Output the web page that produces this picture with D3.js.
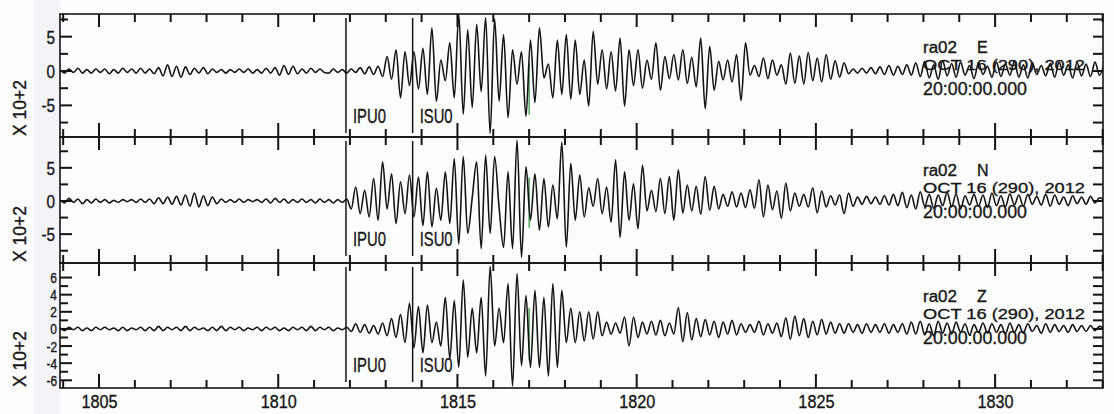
<!DOCTYPE html>
<html><head><meta charset="utf-8">
<script src="https://cdn.jsdelivr.net/npm/d3@7"></script>
<style>
html,body{margin:0;padding:0;background:#fdfdfd;}
svg{display:block;}
.lab{font-family:"Liberation Sans","Arial",sans-serif;fill:#161616;stroke:#161616;stroke-width:0.35px;}
</style></head><body>
<svg id="c" width="1114" height="414"></svg>
<script>
// ---- data ----
const startTime = 1803.912;   // s, first sample (left edge)
const endTime = 1833.01;      // s, right edge of the plot
const sampleStep = 0.125;     // s between successive extrema samples
const xMajorTicks = [1805, 1810, 1815, 1820, 1825, 1830];
const xMinorTicks = [1804,1806,1807,1808,1809,1811,1812,1813,1814,1816,1817,1818,1819,1821,1822,1823,1824,1826,1827,1828,1829,1831,1832,1833];
const channels = ["E", "N", "Z"];
const station = "ra02";
const dateLabel = "OCT 16 (290), 2012";
const timeLabel = "20:00:00.000";
const scaleLabel = "X 10+2";
const pickNames = ["IPU0", "ISU0"];
const pickTimes = [1811.89, 1813.75];
const greenPickTime = 1817.0;
const yRanges = [[-9.6, 8.3], [-9.35, 9.65], [-6.9, 7.7]];
const yMajorTicks = [[-5, 0, 5], [-5, 0, 5], [-6, -4, -2, 0, 2, 4, 6]];
const yMinorTicks = [[-7.5, -2.5, 2.5, 7.5], [-7.5, -2.5, 2.5, 7.5], [-5, -3, -1, 1, 3, 5]];

const traceE = [
 0.2,-0.3,0.3,-0.2,0.4,-0.3,0.2,-0.3,0.3,-0.2,
 0.3,-0.4,0.2,-0.3,0.4,-0.2,0.3,-0.3,0.4,-0.3,
 0.3,-0.4,0.5,-0.7,0.9,-0.8,0.7,-0.9,0.6,-0.5,
 0.4,-0.3,0.5,-0.4,0.3,-0.2,0.2,-0.3,0.2,-0.2,
 0.3,-0.2,0.3,-0.3,0.2,-0.3,0.4,-0.3,0.5,-0.6,
 0.8,-0.5,0.7,-0.4,0.3,-0.3,0.4,-0.2,0.3,-0.2,
 -0.3,0.3,-0.2,0.2,-0.3,0.3,-0.2,0.5,-0.4,0.6,
 -0.5,0.7,-0.8,2.1,-1.2,3.1,-3.9,2.8,-2.1,2.8,
 -2.6,3.3,-3.4,6.3,-4.4,1.6,-1.4,4.1,-3.9,8.3,
 -6.3,6.0,-5.3,6.8,-3.0,7.8,-9.1,7.6,-4.4,5.3,
 -6.8,3.1,-1.9,2.8,-6.6,4.5,-4.6,6.3,-1.0,1.0,
 -3.9,4.5,-3.4,5.3,-4.1,4.5,-3.4,1.6,-5.1,5.8,
 -1.9,3.1,-2.6,2.8,-2.9,4.8,-5.1,3.1,-2.1,3.1,
 -2.5,1.6,-1.2,4.1,-2.8,2.1,-1.1,2.4,-1.3,3.1,
 -1.8,2.0,-2.3,4.8,-5.5,3.6,-2.8,1.4,-1.3,1.6,
 -1.6,2.4,-4.3,4.1,-0.6,0.8,-0.8,1.9,-1.1,1.6,
 -0.6,0.9,-1.9,2.6,-1.8,2.2,-1.9,2.7,-1.4,1.9,
 -1.6,2.4,-1.2,1.5,-0.9,1.2,-0.4,0.3,-0.3,0.4,
 -0.3,0.5,-0.4,0.6,-0.5,0.8,-0.6,0.7,-0.5,0.9,
 -0.6,1.2,-0.8,1.4,-1.0,0.9,-1.2,1.5,-0.7,1.1,
 -0.9,1.3,-0.6,0.8,-1.1,1.2,-0.5,0.7,-0.9,1.3,
 -0.8,1.0,-0.6,1.4,-0.9,0.9,-1.0,1.2,-0.5,0.8,
 -0.7,1.1,-0.9,1.3,-0.6,0.9,-1.0,1.2,-0.7,1.0,
 -0.8,1.3,-0.6,1.0
];
const traceN = [
 0.2,-0.3,0.4,-0.2,0.3,-0.4,0.2,-0.3,0.3,-0.2,
 0.2,-0.3,0.1,-0.2,0.2,-0.1,0.2,-0.2,0.3,-0.2,
 0.3,-0.4,0.5,-0.4,0.6,-0.5,0.7,-0.6,0.9,-0.8,
 1.2,-0.9,0.8,-0.7,0.6,-0.4,0.3,-0.2,0.2,-0.2,
 0.3,-0.2,0.2,-0.1,0.2,-0.2,0.3,-0.3,0.4,-0.2,
 0.3,-0.3,0.2,-0.2,0.3,-0.2,0.2,-0.3,0.3,-0.2,
 0.2,-0.3,0.2,-0.2,0.3,-1.2,2.1,-1.9,1.6,-2.4,
 3.4,-2.9,5.9,-1.2,4.1,-3.4,2.9,-1.9,3.9,-2.4,
 3.6,-3.7,4.4,-3.9,1.9,-2.9,4.4,-3.4,6.4,-6.5,
 6.7,-4.9,0.5,5.9,-7.2,6.9,-4.9,6.7,-1.0,-7.0,
 4.4,-7.2,9.2,-8.5,5.2,-2.9,4.1,-4.4,3.4,-3.9,
 2.4,-2.7,8.9,-7.0,5.7,-2.9,3.9,-2.4,2.0,-0.8,
 3.4,-1.9,2.1,-3.2,6.2,-5.5,4.4,-2.9,2.6,-4.2,
 5.4,-1.5,1.6,-1.6,3.4,-1.9,3.7,-2.9,4.7,-1.8,
 2.4,-1.5,2.2,-2.0,3.7,-1.4,2.2,-1.2,1.0,-0.8,
 1.4,-0.9,1.2,-1.0,1.7,-1.1,3.2,-2.4,2.4,-1.3,
 1.5,-2.6,2.7,-1.5,1.2,-0.8,1.0,-0.9,2.0,-1.8,
 1.5,-0.9,0.8,-0.6,0.9,-1.9,1.2,-0.8,0.6,-0.5,
 0.7,-0.4,0.6,-0.5,0.8,-0.6,1.0,-0.7,1.3,-1.0,
 0.9,-1.2,1.4,-0.8,1.0,-1.1,0.9,-0.7,1.3,-0.9,
 1.1,-1.2,0.8,-0.6,1.0,-0.8,0.9,-1.0,1.2,-0.7,
 0.8,-0.9,1.1,-0.6,0.9,-0.8,1.0,-0.5,0.7,-0.6,
 1.0,-0.8,0.9,-0.5,0.6,-0.7,0.8,-0.4,0.6,-0.5,
 0.7,-0.3,0.5,0.2
];
const traceZ = [
 0.1,-0.2,0.2,-0.1,0.2,-0.2,0.1,-0.2,0.2,-0.1,
 0.2,-0.1,0.1,-0.2,0.2,-0.2,0.1,-0.1,0.2,-0.2,
 0.2,-0.2,0.3,-0.2,0.2,-0.1,0.2,-0.2,0.3,-0.2,
 0.2,-0.1,0.1,-0.2,0.2,-0.2,0.3,-0.2,0.2,-0.1,
 0.2,-0.2,0.1,-0.1,0.2,-0.2,0.2,-0.1,0.2,-0.2,
 0.1,-0.2,0.2,-0.1,0.2,-0.2,0.3,-0.2,0.2,-0.1,
 0.2,-0.2,0.1,-0.1,0.2,-0.3,0.6,-0.4,0.5,-0.5,
 0.4,-0.6,0.7,-0.8,1.2,-1.0,1.7,-1.6,3.0,-2.2,
 2.6,-2.8,2.8,-1.6,0.8,-2.0,3.7,-3.5,3.3,-4.5,
 5.7,-3.3,2.4,-2.8,3.7,-5.5,7.3,-2.0,2.4,-1.6,
 5.3,-6.7,6.5,-4.3,3.9,-4.5,4.5,-4.5,3.7,-5.5,
 5.3,-4.5,4.5,-1.6,2.4,-1.6,2.0,-1.4,2.0,-1.2,
 2.0,-0.8,0.8,-0.6,0.7,-0.5,1.4,-2.0,1.4,-1.0,
 0.8,-0.6,0.9,-0.7,1.0,-0.8,0.7,-0.6,2.5,-1.5,
 1.9,-1.3,1.2,-0.9,1.1,-0.7,0.9,-1.0,0.8,-0.6,
 1.0,-0.7,0.6,-0.4,0.5,-0.4,0.9,-0.7,0.6,-0.5,
 0.7,-0.9,1.3,-1.2,1.5,-0.8,1.2,-1.0,0.9,-0.7,
 1.1,-0.6,0.8,-0.5,0.6,-0.5,0.6,-0.4,0.5,-0.5,
 0.6,-0.4,0.5,-0.4,0.6,-0.5,0.5,-0.4,0.6,-0.6,
 0.8,-0.6,0.9,-0.7,0.6,-0.8,0.9,-0.5,0.7,-0.6,
 0.8,-0.4,0.6,-0.7,0.5,-0.4,0.7,-0.5,0.6,-0.4,
 0.5,-0.6,0.7,-0.4,0.5,-0.5,0.6,-0.3,0.4,-0.5,
 0.6,-0.4,0.5,-0.3,0.4,-0.4,0.5,-0.3,0.4,-0.3,
 0.4,-0.2,0.3,0.1
];
const traces = [traceE, traceN, traceZ];

// ---- layout ----
const svg = d3.select("#c");
const plotLeft = 60, plotRight = 1103;
const panelTops = [14, 137, 263];
const panelBottoms = [137, 263, 388];
const ink = "#141414";

svg.append("rect").attr("x", 34).attr("y", 0).attr("width", 26).attr("height", 414)
  .attr("fill", "#efeff5").attr("opacity", 0.6);

const xs = d3.scaleLinear().domain([startTime, endTime]).range([plotLeft, plotRight]);
const defs = svg.append("defs");
const yScales = panelTops.map((t, p) => d3.scaleLinear().domain(yRanges[p]).range([panelBottoms[p], t]));

function narrow(sel, factor) {
  sel.each(function () {
    const L = this.getComputedTextLength();
    if (L > 0) d3.select(this).attr("textLength", L * factor).attr("lengthAdjust", "spacingAndGlyphs");
  });
}
function fixedWidth(sel, w) {
  return sel.attr("textLength", w).attr("lengthAdjust", "spacingAndGlyphs");
}

const traceLayer = svg.append("g");
const markLayer = svg.append("g");
const textLayer = svg.append("g");
const tickLayer = svg.append("g");
const tickSpecs = [];   // {x, y, w, h} rectangles built from the scales
const TW = 2;           // tick thickness

channels.forEach((ch, p) => {
  const top = panelTops[p], bottom = panelBottoms[p];
  const ys = yScales[p];

  defs.append("clipPath").attr("id", "clip" + p)
    .append("rect").attr("x", plotLeft).attr("y", top).attr("width", plotRight - plotLeft).attr("height", bottom - top);

  const gx = xs(greenPickTime);
  const greenSeg = [[0.40, 0.82], [0.32, 0.72], [0.36, 0.78]][p];
  traceLayer.append("line").attr("x1", gx).attr("x2", gx)
    .attr("y1", top + (bottom - top) * greenSeg[0]).attr("y2", top + (bottom - top) * greenSeg[1])
    .attr("stroke", "#3a9a4a").attr("stroke-width", 1.3);

  const lineGen = d3.line()
    .x((d, i) => xs(startTime + i * sampleStep))
    .y(d => ys(d))
    .curve(d3.curveMonotoneX);
  traceLayer.append("path").datum(traces[p])
    .attr("clip-path", "url(#clip" + p + ")")
    .attr("d", lineGen).attr("fill", "none")
    .attr("stroke", ink).attr("stroke-width", 1.6).attr("stroke-linejoin", "round");

  pickTimes.forEach((t, k) => {
    const px = xs(t);
    markLayer.append("line").attr("x1", px).attr("x2", px).attr("y1", top + 4).attr("y2", top + 119)
      .attr("stroke", ink).attr("stroke-width", 1.5);
    fixedWidth(textLayer.append("text").attr("class", "lab").attr("x", px + 7).attr("y", top + 109)
      .attr("font-size", 21).text(pickNames[k]), 33);
  });

  markLayer.append("rect").attr("x", plotLeft).attr("y", top).attr("width", plotRight - plotLeft).attr("height", bottom - top)
    .attr("fill", "none").attr("stroke", ink).attr("stroke-width", 1.6);

  // tick rectangles
  yMajorTicks[p].forEach(v => tickSpecs.push({x: plotLeft, y: ys(v) - TW / 2, w: 12, h: TW}));
  yMinorTicks[p].forEach(v => tickSpecs.push({x: plotLeft, y: ys(v) - TW / 2, w: 8, h: TW}));
  yMajorTicks[p].concat(yMinorTicks[p]).forEach(v => tickSpecs.push({x: plotRight - 10, y: ys(v) - TW / 2, w: 10, h: TW}));
  xMajorTicks.forEach(v => {
    tickSpecs.push({x: xs(v) - TW / 2, y: top, w: TW, h: 13});
    tickSpecs.push({x: xs(v) - TW / 2, y: bottom - 14, w: TW, h: 14});
  });
  xMinorTicks.forEach(v => {
    tickSpecs.push({x: xs(v) - TW / 2, y: top, w: TW, h: 8});
    tickSpecs.push({x: xs(v) - TW / 2, y: bottom - 8, w: TW, h: 8});
  });

  // y labels via d3 axis
  const yl = textLayer.append("g").attr("transform", `translate(${plotLeft},0)`)
    .call(d3.axisLeft(ys).tickValues(yMajorTicks[p]).tickSize(0).tickPadding(p === 2 ? 3 : 5)
      .tickFormat(d => (d < 0 ? "-" : "") + Math.abs(d)));
  yl.select(".domain").remove();
  yl.selectAll(".tick line").remove();
  yl.attr("font-family", null);
  yl.selectAll("text").attr("class", "lab").attr("font-size", p === 2 ? 14 : 18).attr("dy", "0.36em");
  narrow(yl.selectAll("text"), 0.85);

  if (p === 2) {
    const xb = textLayer.append("g").attr("transform", `translate(0,${bottom})`)
      .call(d3.axisBottom(xs).tickValues(xMajorTicks).tickSize(0).tickPadding(7).tickFormat(d3.format("d")));
    xb.select(".domain").remove();
    xb.selectAll(".tick line").remove();
    xb.attr("font-family", null);
    xb.selectAll("text").attr("class", "lab").attr("font-size", 18);
    narrow(xb.selectAll("text"), 0.9);
  }

  fixedWidth(textLayer.append("text").attr("class", "lab").attr("transform", `translate(26,${bottom - 1}) rotate(-90)`)
    .attr("font-size", 18).text(scaleLabel), 56);

  fixedWidth(textLayer.append("text").attr("class", "lab").attr("x", 923).attr("y", top + 39).attr("font-size", 16).text(station), 34);
  textLayer.append("text").attr("class", "lab").attr("x", 977).attr("y", top + 39).attr("font-size", 16).text(ch);
  fixedWidth(textLayer.append("text").attr("class", "lab").attr("x", 923).attr("y", top + 56).attr("font-size", 15).text(dateLabel), 162);
  fixedWidth(textLayer.append("text").attr("class", "lab").attr("x", 923).attr("y", top + 81).attr("font-size", 19).text(timeLabel), 104);
});

tickLayer.selectAll("rect").data(tickSpecs).join("rect")
  .attr("x", d => d.x).attr("y", d => d.y).attr("width", d => d.w).attr("height", d => d.h)
  .attr("fill", ink);
</script>
</body></html>
